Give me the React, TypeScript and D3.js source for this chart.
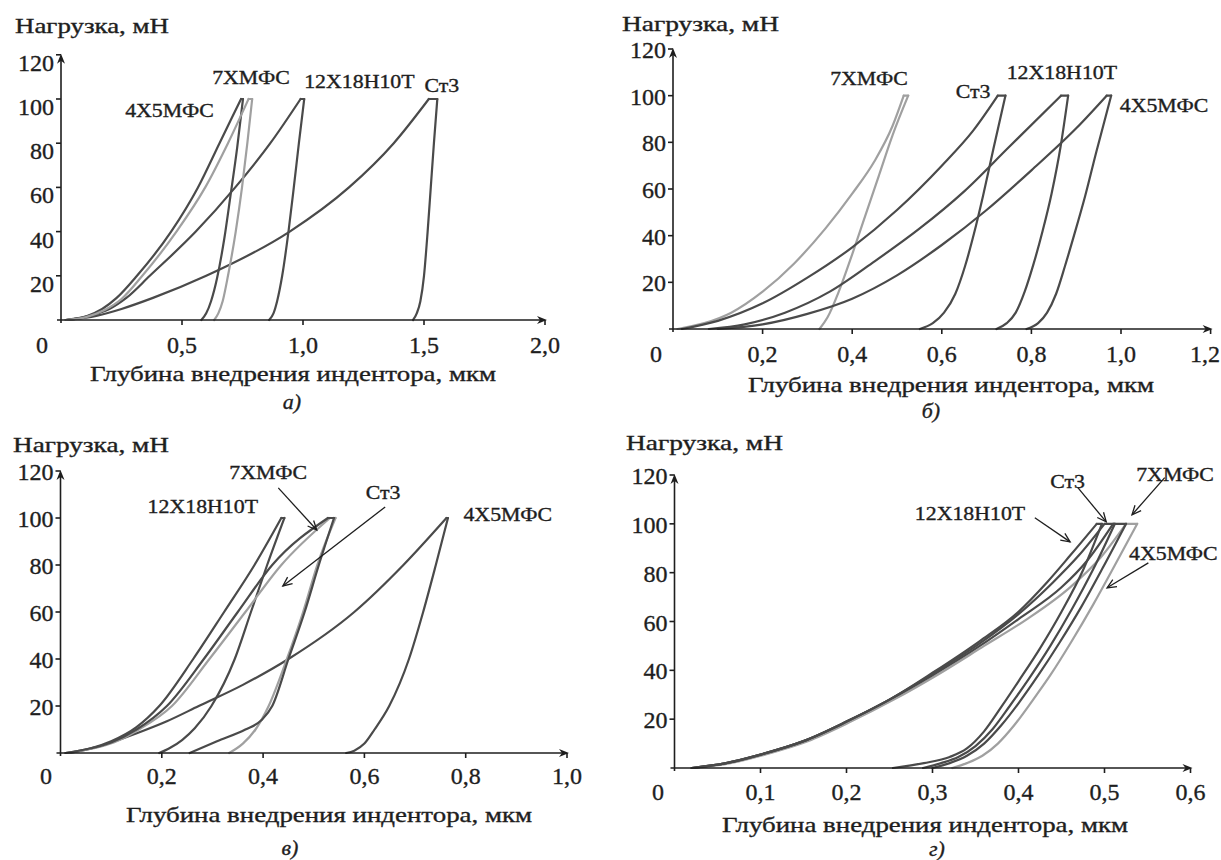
import React from 'react';
import * as d3 from 'd3';

type Pt = [number, number];

// ---------- names ----------
const M4X5 = '4Х5МФС';
const M7X = '7ХМФС';
const M12X = '12Х18Н10Т';
const MST3 = 'Ст3';

// ---------- common axis text ----------
const yTitleText = 'Нагрузка, мН';
const xTitleText = 'Глубина внедрения индентора, мкм';
const yTickValues = [20, 40, 60, 80, 100, 120];
const yTickLabels = ['20', '40', '60', '80', '100', '120'];

// ---------- panel а ----------
const aXTicks = [0.5, 1.0, 1.5, 2.0];
const aXTickLabels = ['0,5', '1,0', '1,5', '2,0'];
const aLoad4X5: Pt[] = [[0.02, 0], [0.1, 1.5], [0.17, 5], [0.23, 10], [0.314, 20], [0.455, 40], [0.566, 60], [0.655, 80], [0.744, 100]];
const aUnload4X5: Pt[] = [[0.58, 0], [0.6, 3], [0.62, 8.5], [0.645, 19], [0.675, 37], [0.7, 56], [0.728, 78], [0.752, 100]];
const aLoad7X: Pt[] = [[0.02, 0], [0.1, 1.2], [0.18, 4.5], [0.25, 9.5], [0.336, 20], [0.477, 40], [0.596, 60], [0.69, 80], [0.775, 100]];
const aUnload7X: Pt[] = [[0.633, 0], [0.65, 3], [0.668, 8.5], [0.69, 20], [0.722, 40], [0.748, 60], [0.77, 80], [0.79, 100]];
const aLoad12X: Pt[] = [[0.02, 0], [0.12, 2], [0.2, 5], [0.27, 10], [0.367, 20], [0.557, 40], [0.72, 60], [0.865, 80], [0.99, 100]];
const aUnload12X: Pt[] = [[0.86, 0], [0.878, 3], [0.893, 8.5], [0.914, 20], [0.94, 40], [0.962, 60], [0.983, 80], [1.005, 100]];
const aLoadSt3: Pt[] = [[0.02, 0], [0.15, 2], [0.25, 5], [0.38, 10], [0.6, 20], [0.945, 40], [1.19, 60], [1.375, 80], [1.52, 100]];
const aUnloadSt3: Pt[] = [[1.455, 0], [1.47, 3], [1.485, 8.5], [1.5, 20], [1.515, 40], [1.528, 60], [1.541, 80], [1.555, 100]];

// ---------- panel б ----------
const bXTicks = [0.2, 0.4, 0.6, 0.8, 1.0, 1.2];
const bXTickLabels = ['0,2', '0,4', '0,6', '0,8', '1,0', '1,2'];
const bLoad7X: Pt[] = [[0.01, 0], [0.07, 2.5], [0.13, 7], [0.2, 16], [0.27, 28], [0.34, 43], [0.4, 58], [0.45, 72], [0.49, 87], [0.515, 100]];
const bUnload7X: Pt[] = [[0.327, 0], [0.345, 5], [0.37, 16], [0.4, 32], [0.43, 49], [0.46, 66], [0.49, 83], [0.525, 100]];
const bLoadSt3: Pt[] = [[0.02, 0], [0.1, 3.5], [0.2, 11], [0.3, 22], [0.4, 35], [0.5, 51], [0.6, 70], [0.67, 85], [0.725, 100]];
const bUnloadSt3: Pt[] = [[0.551, 0], [0.58, 2.5], [0.605, 7], [0.63, 15], [0.652, 27], [0.672, 41], [0.692, 57], [0.715, 77], [0.742, 100]];
const bLoad12X: Pt[] = [[0.08, 0], [0.16, 2], [0.25, 7], [0.35, 16], [0.45, 29], [0.55, 43], [0.65, 59], [0.75, 78], [0.866, 100]];
const bUnload12X: Pt[] = [[0.722, 0], [0.745, 2.5], [0.765, 7], [0.785, 16], [0.805, 28], [0.825, 42], [0.845, 58], [0.865, 78], [0.882, 100]];
const bLoad4X5: Pt[] = [[0.1, 0], [0.2, 2], [0.3, 6.5], [0.4, 13], [0.5, 23], [0.6, 36], [0.7, 51], [0.8, 68], [0.9, 86], [0.968, 100]];
const bUnload4X5: Pt[] = [[0.789, 0], [0.815, 2.5], [0.835, 7], [0.855, 15], [0.875, 27], [0.895, 40], [0.92, 57], [0.945, 76], [0.963, 89], [0.978, 100]];

// ---------- panel в ----------
const cXTicks = [0.2, 0.4, 0.6, 0.8, 1.0];
const cXTickLabels = ['0,2', '0,4', '0,6', '0,8', '1,0'];
const cLoad12X: Pt[] = [[0.01, 0], [0.06, 2], [0.1, 5], [0.15, 11], [0.195, 20], [0.262, 40], [0.323, 60], [0.383, 80], [0.436, 100]];
const cUnload12X: Pt[] = [[0.195, 0], [0.215, 2], [0.24, 5.5], [0.265, 10.5], [0.298, 20], [0.344, 40], [0.376, 60], [0.408, 80], [0.442, 100]];
const cLoadSt3: Pt[] = [[0.01, 0], [0.06, 2], [0.1, 4.5], [0.15, 10], [0.21, 20], [0.283, 40], [0.35, 60], [0.418, 80], [0.528, 100]];
const cUnloadSt3: Pt[] = [[0.255, 0], [0.309, 5], [0.365, 10], [0.397, 14], [0.418, 20], [0.45, 40], [0.482, 60], [0.51, 80], [0.54, 100]];
const cLoad7X: Pt[] = [[0.015, 0], [0.065, 2], [0.105, 4.5], [0.155, 10], [0.22, 20], [0.294, 40], [0.365, 60], [0.436, 80], [0.532, 100]];
const cUnload7X: Pt[] = [[0.333, 0], [0.36, 4], [0.385, 10], [0.411, 20], [0.447, 40], [0.479, 60], [0.507, 80], [0.543, 100]];
const cLoad4X5: Pt[] = [[0.02, 0], [0.08, 3], [0.152, 8.5], [0.21, 13.5], [0.273, 20], [0.36, 29], [0.45, 40], [0.58, 60], [0.677, 80], [0.762, 100]];
const cUnload4X5: Pt[] = [[0.564, 0], [0.58, 1], [0.6, 4], [0.62, 10], [0.649, 20], [0.688, 40], [0.716, 60], [0.741, 80], [0.765, 100]];

// ---------- panel г ----------
const dXTicks = [0.1, 0.2, 0.3, 0.4, 0.5, 0.6];
const dXTickLabels = ['0,1', '0,2', '0,3', '0,4', '0,5', '0,6'];
const dLoad12X: Pt[] = [[0.02, 0], [0.06, 2], [0.1, 5.5], [0.15, 11], [0.2, 19], [0.25, 28], [0.3, 39], [0.355, 52], [0.4, 64], [0.433, 76], [0.46, 87], [0.491, 100]];
const dUnload12X: Pt[] = [[0.254, 0], [0.29, 2], [0.32, 4.5], [0.34, 8], [0.36, 15], [0.38, 25], [0.4, 35.5], [0.425, 49], [0.45, 64], [0.475, 81], [0.497, 100]];
const dLoadSt3: Pt[] = [[0.02, 0], [0.06, 2], [0.1, 5.5], [0.15, 11], [0.2, 19], [0.25, 28], [0.3, 38.5], [0.355, 51], [0.4, 63], [0.44, 76], [0.47, 87], [0.5, 100]];
const dUnloadSt3: Pt[] = [[0.289, 0], [0.31, 2], [0.33, 4.5], [0.35, 9], [0.37, 16], [0.39, 25.5], [0.412, 36.5], [0.437, 50], [0.462, 65], [0.487, 81.5], [0.512, 100]];
const dLoad4X5: Pt[] = [[0.02, 0], [0.06, 2], [0.1, 5.5], [0.15, 11], [0.2, 19], [0.25, 28], [0.3, 38], [0.355, 50], [0.4, 61], [0.45, 74], [0.48, 85], [0.51, 100]];
const dUnload4X5: Pt[] = [[0.3, 0], [0.32, 2], [0.34, 5], [0.36, 10], [0.38, 17.5], [0.4, 26.5], [0.423, 38], [0.448, 51.5], [0.473, 66], [0.498, 82], [0.525, 100]];
const dLoad7X: Pt[] = [[0.025, 0], [0.065, 2], [0.105, 5.5], [0.155, 11], [0.205, 19], [0.255, 28], [0.305, 38], [0.36, 50], [0.41, 61], [0.46, 74], [0.495, 86], [0.525, 100]];
const dUnload7X: Pt[] = [[0.323, 0], [0.34, 2], [0.358, 5], [0.376, 10], [0.395, 17.5], [0.415, 27], [0.437, 38], [0.462, 52], [0.487, 67], [0.512, 83], [0.538, 100]];

type Series = { name: string; load: Pt[]; unload: Pt[] };

const seriesA: Series[] = [
  { name: MST3, load: aLoadSt3, unload: aUnloadSt3 },
  { name: M12X, load: aLoad12X, unload: aUnload12X },
  { name: M4X5, load: aLoad4X5, unload: aUnload4X5 },
  { name: M7X, load: aLoad7X, unload: aUnload7X },
];
const seriesB: Series[] = [
  { name: M7X, load: bLoad7X, unload: bUnload7X },
  { name: MST3, load: bLoadSt3, unload: bUnloadSt3 },
  { name: M12X, load: bLoad12X, unload: bUnload12X },
  { name: M4X5, load: bLoad4X5, unload: bUnload4X5 },
];
const seriesC: Series[] = [
  { name: M12X, load: cLoad12X, unload: cUnload12X },
  { name: M4X5, load: cLoad4X5, unload: cUnload4X5 },
  { name: M7X, load: cLoad7X, unload: cUnload7X },
  { name: MST3, load: cLoadSt3, unload: cUnloadSt3 },
];
const seriesD: Series[] = [
  { name: M7X, load: dLoad7X, unload: dUnload7X },
  { name: M4X5, load: dLoad4X5, unload: dUnload4X5 },
  { name: MST3, load: dLoadSt3, unload: dUnloadSt3 },
  { name: M12X, load: dLoad12X, unload: dUnload12X },
];

// ---------- styles ----------
const FONT = "'Liberation Serif', 'Times New Roman', Times, serif";
const INK = '#1e1e1e';
const DARK = '#4a4a4a';
const LIGHT = '#a0a0a0';
const colorOf: Record<string, string> = { [M4X5]: DARK, [M7X]: LIGHT, [M12X]: DARK, [MST3]: DARK };

type Note = { text: string; at: Pt };
type Arrow = { from: Pt; to: Pt };
type Layout = {
  xMax: number; xPx: [number, number]; yPx: [number, number];
  yLabelDy: number;
  yTitle: [number, number, number];
  xTitle: [number, number];
  xLabelY: number;
  originX: number;
  caption: [number, number, string];
  notes: Note[];
  arrows: Arrow[];
};

const layoutA: Layout = {
  xMax: 2, xPx: [61, 545], yPx: [320, 54.8], yLabelDy: 16,
  yTitle: [15, 33, 154], xTitle: [293, 381], xLabelY: 353, originX: 42,
  caption: [292, 409, 'а)'],
  notes: [
    { text: M7X, at: [0.785, 106.8] },
    { text: M12X, at: [1.233, 105] },
    { text: MST3, at: [1.574, 103.2] },
    { text: M4X5, at: [0.448, 91.9] },
  ],
  arrows: [],
};
const layoutB: Layout = {
  xMax: 1.2, xPx: [673, 1210.6], yPx: [329, 49], yLabelDy: 9,
  yTitle: [622, 31, 157], xTitle: [951, 392], xLabelY: 362, originX: 656,
  caption: [931, 418, 'б)'],
  notes: [
    { text: M7X, at: [0.4375, 104.5] },
    { text: MST3, at: [0.67, 99] },
    { text: M12X, at: [0.868, 107.1] },
    { text: M4X5, at: [1.096, 93] },
  ],
  arrows: [],
};
const layoutC: Layout = {
  xMax: 1.0, xPx: [60.5, 567], yPx: [753, 471], yLabelDy: 9,
  yTitle: [13, 452, 156], xTitle: [329, 822], xLabelY: 784, originX: 46,
  caption: [290, 855, 'в)'],
  notes: [
    { text: M7X, at: [0.41, 116.6] },
    { text: MST3, at: [0.637, 108] },
    { text: M12X, at: [0.281, 102.1] },
    { text: M4X5, at: [0.883, 98.7] },
  ],
  arrows: [
    { from: [0.43, 112.8], to: [0.506, 94.9] },
    { from: [0.641, 104.7], to: [0.439, 71.1] },
  ],
};
const layoutD: Layout = {
  xMax: 0.6, xPx: [674.5, 1190.5], yPx: [768, 475], yLabelDy: 9,
  yTitle: [626, 450, 157], xTitle: [925, 832], xLabelY: 800, originX: 658,
  caption: [937, 856, 'г)'],
  notes: [
    { text: MST3, at: [0.457, 114.8] },
    { text: M7X, at: [0.582, 117.6] },
    { text: M12X, at: [0.3436, 101.6] },
    { text: M4X5, at: [0.58, 85.2] },
  ],
  arrows: [
    { from: [0.469, 114.8], to: [0.502, 100.8] },
    { from: [0.57, 118.9], to: [0.532, 103.7] },
    { from: [0.419, 102.5], to: [0.46, 92.6] },
    { from: [0.551, 84], to: [0.503, 73.8] },
  ],
};

const W = 1221, H = 860;

function Panel({ layout, series, xTicks, xTickLabels }: { layout: Layout; series: Series[]; xTicks: number[]; xTickLabels: string[] }) {
  const x = d3.scaleLinear().domain([0, layout.xMax]).range(layout.xPx);
  const y = d3.scaleLinear().domain([0, 120]).range(layout.yPx);
  const line = d3.line<Pt>().x(d => x(d[0])).y(d => y(d[1])).curve(d3.curveMonotoneX);
  const x0 = x(0), y0 = y(0), xEnd = x(layout.xMax) + 2, yTop = y(120) - 1;

  const arrowHead = (a: Pt, b: Pt) => {
    const ax = x(a[0]), ay = y(a[1]), bx = x(b[0]), by = y(b[1]);
    const ang = Math.atan2(by - ay, bx - ax);
    const L = 10, w = 0.42;
    const p1 = [bx - L * Math.cos(ang - w), by - L * Math.sin(ang - w)];
    const p2 = [bx - L * Math.cos(ang + w), by - L * Math.sin(ang + w)];
    return `M${p1[0]},${p1[1]}L${bx},${by}L${p2[0]},${p2[1]}`;
  };

  const textStyle = { fontFamily: FONT, fill: INK, stroke: INK, strokeWidth: 0.35 } as const;

  return (
    <g>
      {series.map(s => {
        const peak = s.load[s.load.length - 1];
        const top = s.unload[s.unload.length - 1];
        const col = colorOf[s.name];
        return (
          <g key={s.name} fill="none" stroke={col} strokeWidth={2.2} strokeLinejoin="round" strokeLinecap="round">
            <path d={line(s.load) || ''} />
            <line x1={x(peak[0])} y1={y(peak[1])} x2={x(top[0])} y2={y(top[1])} />
            <path d={line(s.unload) || ''} />
          </g>
        );
      })}

      <g stroke={INK} strokeWidth={1.6} fill="none">
        <line x1={x0 - 4} y1={y0} x2={xEnd - 6} y2={y0} />
        <line x1={x0} y1={y0 + 3} x2={x0} y2={yTop + 6} />
        {yTickValues.map(v => <line key={'yt' + v} x1={x0 - 5} x2={x0} y1={y(v)} y2={y(v)} />)}
        {xTicks.map(v => <line key={'xt' + v} x1={x(v)} x2={x(v)} y1={y0} y2={y0 + 5} />)}
      </g>
      <path d={`M${xEnd},${y0}L${xEnd - 10},${y0 - 4}L${xEnd - 7},${y0}L${xEnd - 10},${y0 + 4}Z`} fill={INK} />
      <path d={`M${x0},${yTop}L${x0 - 4},${yTop + 10}L${x0},${yTop + 7}L${x0 + 4},${yTop + 10}Z`} fill={INK} />

      <g {...textStyle} fontSize={24}>
        {yTickValues.map((v, i) => (
          <text key={'yl' + v} x={x0 - 7} y={y(v) + layout.yLabelDy} textAnchor="end">{yTickLabels[i]}</text>
        ))}
        {xTicks.map((v, i) => {
          const px = x(v);
          const atEdge = px + 16 > W;
          return (
            <text key={'xl' + v} x={atEdge ? W - 1 : px} y={layout.xLabelY} textAnchor={atEdge ? 'end' : 'middle'}>{xTickLabels[i]}</text>
          );
        })}
        <text x={layout.originX} y={layout.xLabelY} textAnchor="middle">0</text>
      </g>

      <text {...textStyle} x={layout.yTitle[0]} y={layout.yTitle[1]} fontSize={21}
        textLength={layout.yTitle[2]} lengthAdjust="spacingAndGlyphs">{yTitleText}</text>
      <text {...textStyle} x={layout.xTitle[0] - 203} y={layout.xTitle[1]} fontSize={22}
        textLength={406} lengthAdjust="spacingAndGlyphs">{xTitleText}</text>
      <text {...textStyle} x={layout.caption[0]} y={layout.caption[1]} fontSize={22} fontStyle="italic"
        textAnchor="middle">{layout.caption[2]}</text>

      {layout.notes.map(n => (
        <g key={n.text} transform={`translate(${x(n.at[0])},${y(n.at[1])}) scale(1.15,1)`}>
          <text {...textStyle} fontSize={19} textAnchor="middle">{n.text}</text>
        </g>
      ))}
      {layout.arrows.map((a, i) => (
        <g key={'ar' + i} stroke={INK} strokeWidth={1.3} fill="none">
          <line x1={x(a.from[0])} y1={y(a.from[1])} x2={x(a.to[0])} y2={y(a.to[1])} />
          <path d={arrowHead(a.from, a.to)} />
        </g>
      ))}
    </g>
  );
}

export default function App() {
  return (
    <svg width={W} height={H} viewBox={`0 0 ${W} ${H}`}
      style={{ position: 'absolute', left: 0, top: 0, background: '#fff' }}>
      <rect x={0} y={0} width={W} height={H} fill="#fff" />
      <Panel layout={layoutA} series={seriesA} xTicks={aXTicks} xTickLabels={aXTickLabels} />
      <Panel layout={layoutB} series={seriesB} xTicks={bXTicks} xTickLabels={bXTickLabels} />
      <Panel layout={layoutC} series={seriesC} xTicks={cXTicks} xTickLabels={cXTickLabels} />
      <Panel layout={layoutD} series={seriesD} xTicks={dXTicks} xTickLabels={dXTickLabels} />
    </svg>
  );
}
